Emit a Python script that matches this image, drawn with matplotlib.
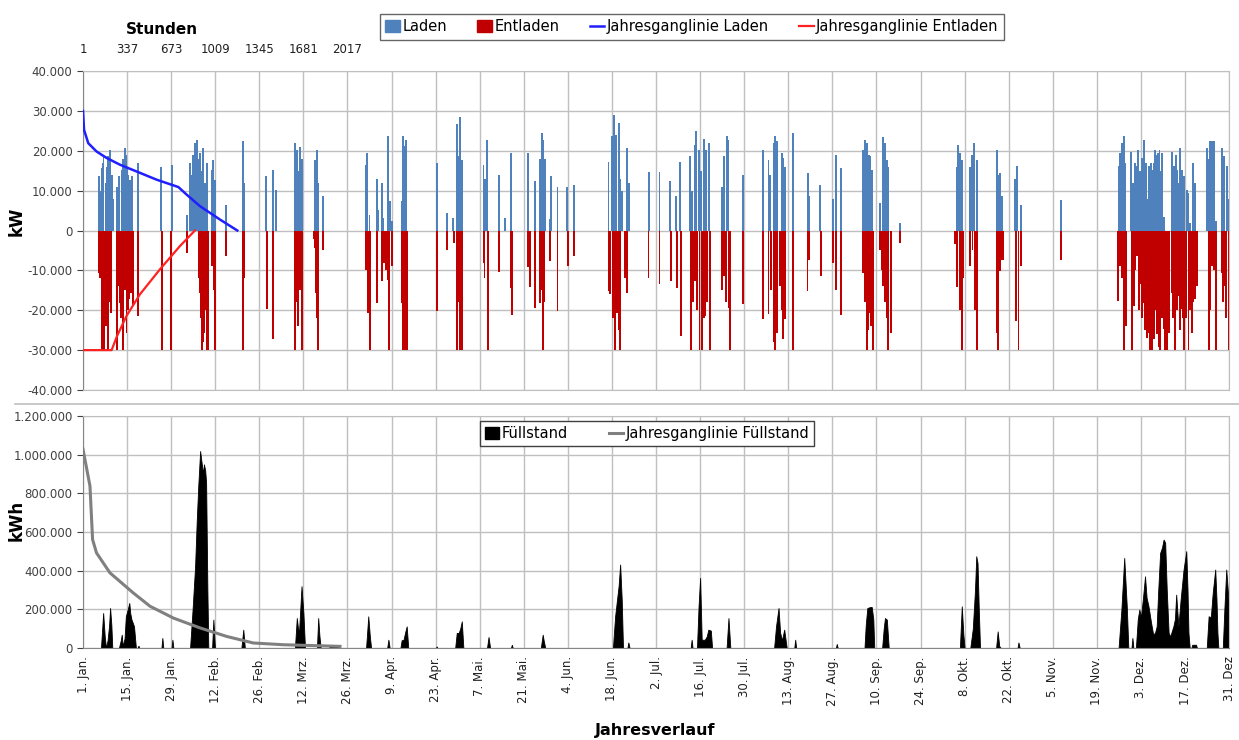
import numpy as np
import matplotlib
matplotlib.use("Agg")
import matplotlib.pyplot as plt
from matplotlib.patches import Patch
from matplotlib.lines import Line2D
from matplotlib.ticker import FuncFormatter

plt.rcParams["font.family"] = ["Liberation Sans Narrow", "DejaVu Sans"]

# Tag im Jahr (0 = 1. Jan.) und Leistung in 1000 kW
laden_tag = [
    5.2, 5.5, 5.9, 6.2, 6.5, 7.3, 7.7, 8.0, 8.6, 9.1, 9.4,
    10.7, 11.0, 11.5, 12.3, 12.8, 13.3, 13.6, 13.9, 14.4, 14.9, 15.2, 15.5, 17.6,
    24.7, 28.2,
    33.0, 34.0, 34.4, 34.8, 35.2, 35.6, 36.0, 36.3, 36.7, 37.2, 37.7, 38.2, 38.7, 39.3,
    40.9, 41.4, 41.9, 45.3, 50.7, 51.0, 58.0, 60.2, 61.3,
    67.3, 67.7, 68.1, 68.5, 68.9, 69.5,
    73.7, 74.2, 74.4, 74.8, 76.3, 89.9, 90.3, 91.0,
    93.3, 93.8, 94.9, 95.4, 96.7, 97.0, 97.5, 98.0,
    101.2, 101.5, 102.0, 102.3, 102.6, 112.3,
    115.5, 117.6, 118.7, 119.2, 119.7, 120.3,
    127.2, 127.7, 128.2, 132.1, 134.0, 135.8,
    141.4, 143.6, 145.2, 145.7, 146.2, 146.6, 148.2, 148.7, 150.7, 153.7, 155.8,
    166.9, 168.0, 168.7, 169.3, 170.1, 170.6, 171.2, 172.7, 173.3,
    179.9, 183.1, 186.5, 188.4, 189.7,
    192.9, 193.5, 194.4, 194.8, 195.5, 196.3, 197.1, 197.9, 198.7,
    202.9, 203.6, 204.5, 205.0, 209.6, 215.9, 217.7, 218.3,
    219.3, 219.8, 220.5, 221.9, 222.4, 223.0, 225.6,
    230.4, 230.7, 234.1, 238.3, 239.1, 240.8,
    247.8, 248.4, 248.9, 249.5, 250.0, 250.5,
    253.1, 254.2, 254.7, 255.3, 255.8, 259.5,
    277.5, 278.0, 278.6, 279.1, 281.7, 282.3, 283.0, 283.8,
    290.2, 290.7, 291.3, 291.8, 296.1, 296.6, 297.9, 310.7,
    328.9, 329.4, 330.0, 330.5, 331.0,
    332.8, 333.4, 334.0, 334.7, 335.2, 335.7, 336.3, 337.0, 337.5, 337.9,
    338.7, 339.1, 339.5, 340.0, 340.5, 340.9, 341.3, 341.9, 342.3, 342.7, 343.2,
    345.8, 346.2, 346.6, 347.0, 347.4, 347.9, 348.3, 349.0, 349.4, 349.8,
    350.6, 351.1, 351.7, 352.5, 353.2,
    357.0, 357.4, 357.8, 358.5, 359.1, 359.9, 361.7, 362.1, 362.5, 363.3, 363.8,
]
laden_tsd_kw = [
    13.6, 10.0, 15.7, 17.0, 18.5, 11.9, 16.0, 18.6, 20.2, 14.0, 8.0,
    11.0, 9.0, 13.6, 15.2, 18.0, 20.7, 19.0, 16.0, 14.0, 12.7, 10.0, 13.6, 17.0,
    16.0, 16.5,
    4.0, 16.9, 14.0, 19.0, 17.0, 22.0, 20.0, 22.7, 18.0, 19.4, 15.0, 20.7, 12.0, 17.0,
    15.2, 17.7, 12.7, 6.5, 22.5, 12.0, 13.6, 15.2, 10.2,
    21.9, 17.0, 20.2, 15.0, 21.0, 18.0,
    17.8, 20.2, 16.9, 12.0, 8.6, 16.5, 19.4, 4.0,
    12.8, 5.1, 11.9, 3.2, 6.7, 23.6, 7.5, 2.5,
    7.5, 23.6, 21.2, 18.0, 22.7, 16.9,
    4.5, 3.2, 26.8, 18.6, 28.4, 17.8,
    16.5, 12.8, 22.8, 14.0, 3.2, 19.4,
    19.4, 12.5, 18.0, 24.4, 22.8, 18.0, 3.0, 13.6, 10.8, 11.0, 11.5,
    17.3, 23.6, 28.9, 24.0, 27.0, 12.8, 10.0, 20.7, 11.9,
    14.8, 14.8, 12.5, 8.6, 17.3,
    18.6, 10.0, 21.5, 25.0, 20.2, 15.0, 23.0, 20.2, 22.0,
    11.0, 18.6, 23.6, 22.8, 14.0, 20.2, 17.8, 14.0,
    21.9, 23.6, 22.5, 19.4, 18.2, 16.0, 24.4,
    14.4, 8.6, 11.5, 8.0, 18.9, 15.7,
    20.2, 22.8, 21.9, 19.0, 18.6, 15.2,
    6.9, 23.5, 21.9, 17.8, 16.0, 1.9,
    16.0, 21.5, 19.4, 17.8, 16.0, 19.0, 21.9, 17.8,
    20.2, 14.0, 14.4, 8.6, 12.8, 16.1, 6.5, 7.6,
    16.1, 19.4, 21.9, 23.6, 16.9,
    19.8, 11.9, 17.0, 16.1, 20.2, 15.0, 18.2, 22.8, 17.0, 8.0,
    16.1, 17.0, 15.2, 17.0, 20.2, 19.0, 19.4, 20.2, 15.0, 19.4, 3.5,
    19.8, 16.0, 16.1, 19.0, 15.2, 12.0, 20.7, 15.2, 11.0, 13.6,
    10.2, 9.5, 1.9, 16.9, 11.9,
    20.7, 18.0, 22.5, 22.5, 22.5, 2.5, 20.7, 15.0, 18.6, 16.1, 8.0,
]

entladen_tag = [
    5.2, 5.5, 5.9, 6.3, 6.7, 7.3, 7.7, 8.0, 8.4, 8.8,
    10.9, 11.3, 11.7, 12.2, 12.7, 13.2, 13.8, 14.2, 14.6, 15.0, 15.3, 15.8, 17.6,
    25.0, 27.9, 33.0,
    36.7, 37.2, 37.5, 37.7, 38.0, 38.5, 38.9, 39.3, 39.8,
    41.1, 41.5, 41.9, 45.3, 50.9, 51.2, 58.3, 60.4,
    67.3, 67.8, 68.4, 68.9, 69.5, 73.2,
    73.7, 74.0, 74.4, 74.7, 76.1,
    90.0, 90.6, 91.2, 93.3, 94.9, 95.6, 96.2, 96.7, 97.3, 98.0,
    101.2, 101.7, 102.0, 102.3, 102.6, 103.0,
    112.5, 115.7, 117.8, 118.7, 119.2, 119.7, 120.0, 120.4,
    127.2, 127.5, 128.5, 132.1, 135.9, 136.2,
    141.4, 142.0, 143.6, 145.2, 145.6, 146.0, 146.5,
    148.4, 150.7, 153.9, 155.8,
    166.9, 167.5, 168.2, 169.0, 169.6, 170.1, 170.6, 172.0, 172.9,
    179.6, 183.1, 186.7, 188.6, 189.9,
    193.1, 193.8, 194.4, 195.1, 195.8, 196.6, 197.1, 197.6, 198.3, 199.2,
    202.9, 203.7, 204.3, 205.0, 205.6, 209.6,
    215.9, 217.7, 218.5, 219.3, 219.8, 220.5, 221.4, 221.9, 222.4, 223.0, 225.6,
    230.1, 230.7, 234.3, 238.1, 239.2, 240.6,
    247.6, 248.3, 248.9, 249.4, 249.8, 250.4, 251.0,
    253.1, 253.7, 254.2, 254.8, 255.3, 255.8, 256.5, 259.5,
    277.0, 277.7, 278.4, 279.1, 279.6, 281.7, 282.5, 283.3, 283.8,
    290.2, 290.7, 291.3, 291.8, 292.1,
    296.4, 297.1, 297.9, 310.7,
    328.6, 329.4, 330.0, 330.7, 331.3,
    333.1, 333.7, 334.2, 334.7, 335.3, 335.8, 336.3, 336.8, 337.3, 337.7, 338.0,
    338.4, 339.0, 339.5, 339.8, 340.2, 340.8, 341.2, 341.6, 342.1, 342.6, 343.2,
    343.7, 344.2, 344.8,
    345.8, 346.3, 346.9, 347.5, 348.0, 348.5, 349.0, 349.4, 349.8, 350.4, 351.1,
    351.6, 352.2, 352.7, 353.2, 353.8,
    357.5, 358.0, 358.5, 359.1, 359.9, 361.7, 362.1, 362.5, 363.1, 363.8,
]
entladen_tsd_kw = [
    -10.6, -12.0, -30.0, -22.0, -30.0, -23.9, -15.0, -30.0, -18.0, -20.6,
    -30.0, -14.0, -18.1, -22.0, -30.0, -15.0, -25.6, -20.0, -17.2, -12.0, -15.6, -19.0, -21.4,
    -30.0, -30.0, -5.6,
    -12.0, -15.6, -22.0, -30.0, -28.0, -25.6, -20.0, -30.0, -30.0,
    -8.9, -15.0, -30.0, -6.4, -30.0, -12.0, -19.8, -27.2,
    -30.0, -18.0, -23.9, -15.0, -30.0, -2.2,
    -4.3, -15.6, -22.0, -30.0, -4.8,
    -10.0, -20.6, -30.0, -18.1, -12.7, -8.1, -10.0, -12.3, -30.0, -8.9,
    -18.1, -30.0, -20.0, -30.0, -22.0, -30.0,
    -20.2, -4.8, -3.1, -30.0, -18.0, -30.0, -20.0, -30.0,
    -8.1, -11.9, -30.0, -10.3, -14.4, -21.1,
    -9.1, -14.2, -19.4, -18.1, -15.0, -30.0, -18.0,
    -7.6, -20.2, -8.9, -6.4,
    -15.2, -16.0, -22.0, -30.0, -20.6, -25.0, -30.0, -12.0, -15.6,
    -11.9, -13.5, -12.7, -14.4, -26.4,
    -30.0, -18.0, -12.7, -20.0, -30.0, -30.0, -22.0, -21.4, -18.0, -30.0,
    -14.8, -11.5, -18.0, -19.4, -30.0, -18.5,
    -22.2, -21.0, -15.0, -28.0, -30.0, -25.6, -14.0, -20.0, -27.2, -22.2, -30.0,
    -15.2, -7.3, -11.5, -8.1, -14.8, -21.1,
    -10.6, -18.0, -30.0, -25.0, -20.6, -24.0, -30.0,
    -4.8, -10.0, -14.0, -18.0, -22.0, -30.0, -25.6, -3.1,
    -3.4, -14.2, -20.0, -30.0, -12.0, -8.9, -5.0, -20.0, -30.0,
    -25.6, -30.0, -10.2, -7.3, -7.3,
    -22.6, -30.0, -8.9, -7.3,
    -17.6, -8.9, -12.0, -30.0, -23.9,
    -30.0, -18.9, -10.0, -6.4, -20.0, -13.5, -22.0, -18.1, -25.0, -21.4, -27.0,
    -25.6, -30.0, -30.0, -22.0, -27.2, -20.0, -26.0, -29.3, -30.0, -22.0, -24.7,
    -30.0, -30.0, -25.6,
    -15.6, -22.0, -30.0, -20.0, -16.4, -25.0, -19.8, -22.0, -30.0, -22.0, -30.0,
    -20.0, -25.6, -18.0, -17.2, -14.0,
    -30.0, -20.0, -8.9, -10.0, -30.0, -10.6, -18.0, -14.0, -22.0, -30.0,
]

# Füllstand: Tag im Jahr und Speicherinhalt in 1000 kWh
fuell_tag = [
    0.0, 5.7, 6.4, 6.9, 7.3, 7.8, 8.3, 8.6, 9.0, 9.3,
    11.4, 12.0, 12.3, 12.6, 13.2, 13.6, 14.2, 14.7, 15.0, 15.4, 15.8, 16.2, 16.8,
    17.3, 17.6, 17.9, 24.9, 25.2, 25.5, 28.1, 28.4, 28.7,
    34.0, 34.8, 35.6, 36.1, 36.6, 37.2, 37.5, 37.8, 38.1, 38.4, 38.8, 39.1, 39.5, 39.8,
    41.0, 41.4, 41.9, 50.3, 50.9, 51.4,
    67.3, 67.9, 68.3, 68.6, 69.0, 69.4, 70.0, 70.5,
    74.3, 74.7, 75.1, 75.5, 78.0, 78.5, 81.0, 81.5,
    89.9, 90.6, 91.1, 91.5, 96.6, 97.0, 97.4,
    100.8, 101.2, 101.8, 102.3, 102.8, 103.3, 112.1, 112.3, 112.6,
    118.2, 118.7, 119.3, 119.8, 120.3, 120.8, 128.3, 128.8, 129.3,
    135.9, 136.2, 136.5, 145.4, 146.0, 146.3, 146.8,
    168.3, 169.0, 169.6, 170.1, 170.6, 171.1, 171.5, 172.9, 173.2, 173.6,
    193.0, 193.3, 193.6,
    195.0, 195.5, 196.0, 196.5, 197.5, 198.1, 198.6, 199.4, 199.8,
    204.4, 205.0, 205.6,
    219.5, 220.1, 220.9, 221.4, 222.0, 222.7, 223.5, 225.9, 226.2, 226.5,
    239.1, 239.4, 239.7,
    248.2, 248.6, 249.1, 250.0, 250.5, 251.0, 251.3,
    253.8, 254.3, 254.7, 255.3, 255.9,
    278.5, 279.1, 279.6, 280.0,
    281.8, 282.6, 283.3, 283.7, 284.1, 284.5, 284.9,
    290.0, 290.5, 291.0, 291.5, 296.8, 297.1, 297.5,
    328.9, 329.8, 330.7, 331.5, 332.0, 333.0, 333.3, 333.6,
    334.4, 335.0, 335.5, 336.0, 336.6, 337.3, 337.8, 338.4, 339.2, 339.9, 340.5,
    341.0, 341.5, 342.1, 342.7, 343.2, 343.7, 344.2, 344.8, 345.3, 346.3, 346.8,
    347.2, 347.9, 348.6, 349.5, 350.4, 350.8, 351.1, 351.5,
    352.0, 352.3, 353.5, 353.8,
    356.9, 357.5, 358.2, 358.8, 359.6, 360.0, 360.3, 360.6,
    362.0, 362.5, 363.1, 363.8, 364.0,
]
fuell_tsd_kwh = [
    0, 0, 181, 60, 0, 40, 120, 207, 120, 0,
    0, 40, 69, 10, 50, 164, 200, 233, 180, 147, 130, 112, 0,
    0, 12, 0, 0, 52, 0, 0, 43, 0,
    0, 200, 423, 650, 838, 1019, 980, 941, 900, 950, 920, 855, 300, 0,
    0, 147, 0, 0, 95, 0,
    0, 155, 100, 80, 200, 320, 180, 0,
    0, 155, 60, 0, 0, 8, 8, 0,
    0, 164, 60, 0, 0, 43, 0,
    0, 40, 43, 80, 112, 0, 0, 8, 0,
    0, 78, 78, 100, 138, 0, 0, 57, 0,
    0, 17, 0, 0, 69, 40, 0,
    0, 164, 250, 320, 432, 250, 0, 0, 29, 0,
    0, 43, 0,
    0, 216, 363, 43, 43, 60, 95, 90, 0,
    0, 155, 0,
    0, 112, 207, 80, 40, 95, 0, 0, 43, 0,
    0, 21, 0,
    0, 120, 207, 212, 212, 150, 0,
    0, 100, 155, 147, 0,
    0, 216, 70, 0,
    0, 100, 300, 475, 440, 200, 0,
    0, 86, 10, 0, 0, 29, 0,
    0, 200, 466, 216, 0, 0, 52, 0,
    0, 150, 199, 160, 250, 371, 260, 216, 133, 69, 80,
    112, 300, 492, 520, 561, 545, 300, 78, 60, 112, 150,
    276, 112, 250, 400, 501, 300, 78, 0,
    0, 17, 17, 0,
    0, 164, 160, 285, 406, 250, 78, 0,
    0, 200, 406, 250, 0,
]

# Jahresganglinien (sortierte Dauerlinien), Stunden
laden_linie_h = [1, 9, 41, 105, 181, 283, 410, 562, 728, 791, 893, 1045, 1177]
laden_linie_kw = [30000, 25250, 21900, 19800, 18200, 16500, 14800, 12750,
                  10900, 9000, 6100, 2750, 0]
entladen_linie_h = [1, 219, 260, 333, 435, 587, 740, 854]
entladen_linie_kw = [-30000, -30000, -26500, -21400, -16000, -9750, -3900, 0]
fuell_linie_h = [1, 54, 74, 104, 206, 384, 512, 690, 893, 1096, 1299, 1528, 1960]
fuell_linie_kwh = [1028000, 838000, 561000, 492000, 389000, 285000, 216000,
                   155000, 104000, 60000, 26000, 17000, 8600]

datum_ticks = list(range(0, 365, 14))
datum_labels = [
    "1. Jan.", "15. Jan.", "29. Jan.", "12. Feb.", "26. Feb.", "12. Mrz.",
    "26. Mrz.", "9. Apr.", "23. Apr.", "7. Mai.", "21. Mai.", "4. Jun.",
    "18. Jun.", "2. Jul.", "16. Jul.", "30. Jul.", "13. Aug.", "27. Aug.",
    "10. Sep.", "24. Sep.", "8. Okt.", "22. Okt.", "5. Nov.", "19. Nov.",
    "3. Dez.", "17. Dez.", "31. Dez",
]
stunden_ticks = [1, 337, 673, 1009, 1345, 1681, 2017]

c_laden = "#4F81BD"
c_entladen = "#C00000"
c_laden_linie = "#1F1FFF"
c_entladen_linie = "#FF2222"
c_grid = "#BFBFBF"

de_fmt = FuncFormatter(lambda v, p: f"{v:,.0f}".replace(",", "."))

fig = plt.figure(figsize=(12.39, 7.40), dpi=100)
ax1 = fig.add_axes([0.067, 0.473, 0.925, 0.431])
ax3 = fig.add_axes([0.067, 0.1243, 0.925, 0.3135])

# --- oben: Laden / Entladen ---
ax1.bar(laden_tag, np.array(laden_tsd_kw) * 1000, width=0.6,
        color=c_laden, linewidth=0, zorder=2)
ax1.bar(entladen_tag, np.array(entladen_tsd_kw) * 1000, width=0.6,
        color=c_entladen, linewidth=0, zorder=2)
ax1.set_xlim(0, 364)
ax1.set_ylim(-40000, 40000)
ax1.set_yticks(range(-40000, 40001, 10000))
ax1.yaxis.set_major_formatter(de_fmt)
ax1.set_xticks(datum_ticks)
ax1.tick_params(axis="x", labelbottom=False, length=0)
ax1.tick_params(axis="y", labelsize=8.5, colors="#404040", length=4)
ax1.grid(True, color=c_grid, linewidth=1)
ax1.set_axisbelow(True)
for s in ax1.spines.values():
    s.set_color(c_grid)
ax1.spines["left"].set_color("#868686")
ax1.set_ylabel("kW", fontweight="bold", fontsize=12)
ax1.yaxis.set_label_coords(-0.05, 0.53)

ax2 = ax1.twiny()
ax2.set_xlim(1, 364 * 24 + 1)
ax2.plot(laden_linie_h, laden_linie_kw, color=c_laden_linie, lw=1.8, zorder=3)
ax2.plot(entladen_linie_h, entladen_linie_kw, color=c_entladen_linie, lw=1.6, zorder=3)
ax2.set_xticks(stunden_ticks)
ax2.tick_params(axis="x", length=0, pad=11, labelsize=8.5, colors="#202020")
for s in ax2.spines.values():
    s.set_visible(False)
fig.text(162 / 1239, 1 - 29 / 740, "Stunden", fontweight="bold", fontsize=11,
         ha="center", va="center")

h1 = [Patch(color=c_laden), Patch(color=c_entladen),
      Line2D([], [], color=c_laden_linie, lw=1.8),
      Line2D([], [], color=c_entladen_linie, lw=1.6)]
l1 = ["Laden", "Entladen", "Jahresganglinie Laden", "Jahresganglinie Entladen"]
leg1 = fig.legend(h1, l1, loc="upper center", bbox_to_anchor=(692 / 1239, 1 - 7 / 740),
                  ncol=4, frameon=True, fancybox=False, edgecolor="#404040",
                  fontsize=10.5, handlelength=1.0, handleheight=0.9,
                  handletextpad=0.15, columnspacing=2.1, borderpad=0.35)
leg1.get_frame().set_linewidth(1.0)

# --- unten: Füllstand ---
ax3.fill_between(fuell_tag, np.array(fuell_tsd_kwh) * 1000, color="black",
                 linewidth=0.6, zorder=2)
ax3.set_xlim(0, 364)
ax3.set_ylim(0, 1200000)
ax3.set_yticks(range(0, 1200001, 200000))
ax3.yaxis.set_major_formatter(de_fmt)
ax3.set_xticks(datum_ticks)
ax3.set_xticklabels(datum_labels, rotation=90, fontsize=8.5, color="#202020")
ax3.tick_params(axis="x", length=0, pad=6)
ax3.tick_params(axis="y", labelsize=8.5, colors="#404040", length=4)
ax3.grid(True, color=c_grid, linewidth=1)
ax3.set_axisbelow(True)
for s in ax3.spines.values():
    s.set_color(c_grid)
ax3.spines["left"].set_color("#868686")
ax3.spines["bottom"].set_color("#868686")
ax3.set_ylabel("kWh", fontweight="bold", fontsize=12)
ax3.yaxis.set_label_coords(-0.05, 0.55)

ax4 = ax3.twiny()
ax4.set_xlim(1, 364 * 24 + 1)
ax4.plot(fuell_linie_h, fuell_linie_kwh, color="#808080", lw=2.2, zorder=3)
ax4.set_xticks([])
for s in ax4.spines.values():
    s.set_visible(False)

h2 = [Patch(color="black"), Line2D([], [], color="#808080", lw=2.2)]
l2 = ["Füllstand", "Jahresganglinie Füllstand"]
leg2 = ax4.legend(h2, l2, loc="upper center", bbox_to_anchor=(647 / 1239, 1 - 414 / 740),
                  bbox_transform=fig.transFigure, ncol=2, frameon=True, fancybox=False,
                  edgecolor="#404040", fontsize=10.5, handlelength=1.0, handleheight=0.9,
                  handletextpad=0.15, columnspacing=2.8, borderpad=0.35, framealpha=1)
leg2.get_frame().set_linewidth(1.0)

fig.text(655 / 1239, 1 - 730 / 740, "Jahresverlauf", fontweight="bold", fontsize=11.5,
         ha="center", va="center")
fig.add_artist(Line2D([0.012, 1.0], [0.454, 0.454], color=c_grid, lw=1.2,
                      transform=fig.transFigure))

fig.savefig("out.png", dpi=100)
